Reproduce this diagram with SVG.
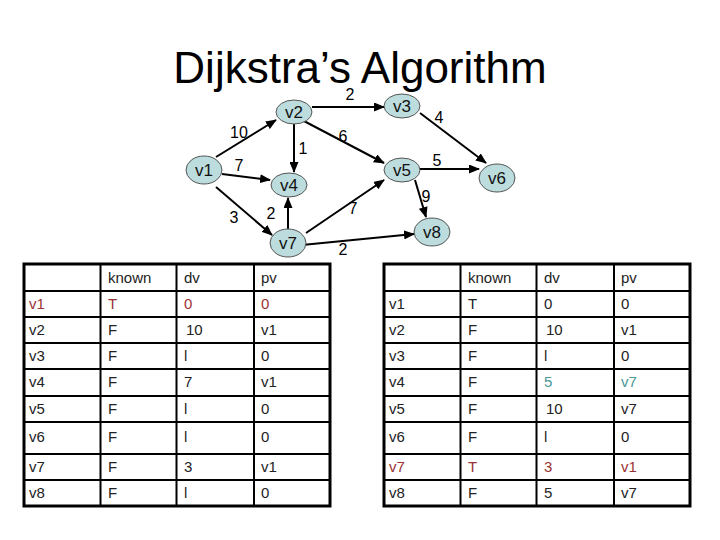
<svg xmlns="http://www.w3.org/2000/svg" width="720" height="540" viewBox="0 0 720 540">
<defs>
<marker id="arr" markerUnits="userSpaceOnUse" markerWidth="11" markerHeight="9" refX="10" refY="4.5" orient="auto">
<path d="M0,0 L11,4.5 L0,9 z" fill="#000"/>
</marker>
<style>
.t{font-family:"Liberation Sans",Arial,sans-serif}
.title{font-size:44px;fill:#000}
.node ellipse{fill:#bcdcdd;stroke:#555;stroke-width:1}
.node text{font-size:17px;fill:#111;text-anchor:middle}
.edge{stroke:#000;stroke-width:2;fill:none;marker-end:url(#arr)}
.el{font-size:16px;fill:#000;text-anchor:middle}
.grid{stroke:#000;stroke-width:2;fill:none}
.outer{stroke:#000;stroke-width:3;fill:#fff}
.c{font-size:15px;fill:#222}
.r{fill:#993333}
.g{fill:#4a9898}
</style>
</defs>
<rect width="720" height="540" fill="#fff"/>
<text class="t title" x="360" y="83" text-anchor="middle">Dijkstra’s Algorithm</text>

<g id="connectors">
<line class="edge" x1="216" y1="157" x2="276" y2="120"/>
<line class="edge" x1="222" y1="174" x2="270" y2="180"/>
<line class="edge" x1="216" y1="187" x2="272" y2="235"/>
<line class="edge" x1="312" y1="107" x2="384" y2="107"/>
<line class="edge" x1="294" y1="124" x2="294" y2="172"/>
<line class="edge" x1="302" y1="120" x2="384" y2="163"/>
<line class="edge" x1="420" y1="113" x2="486" y2="163"/>
<line class="edge" x1="420" y1="169" x2="479" y2="169"/>
<line class="edge" x1="415" y1="180" x2="426" y2="217"/>
<line class="edge" x1="288" y1="229" x2="288" y2="198"/>
<line class="edge" x1="306" y1="233" x2="384" y2="180"/>
<line class="edge" x1="302" y1="245" x2="414" y2="234"/>
<text class="t el" x="239" y="138">10</text>
<text class="t el" x="239" y="171">7</text>
<text class="t el" x="234" y="223">3</text>
<text class="t el" x="350" y="100">2</text>
<text class="t el" x="303" y="154">1</text>
<text class="t el" x="343" y="142">6</text>
<text class="t el" x="439" y="123">4</text>
<text class="t el" x="437" y="166">5</text>
<text class="t el" x="426" y="202">9</text>
<text class="t el" x="271" y="219">2</text>
<text class="t el" x="353" y="214">7</text>
<text class="t el" x="343" y="255">2</text>
</g>

<g id="v1" class="node"><ellipse cx="204" cy="170" rx="18" ry="14"/><text class="t" x="204" y="176">v1</text></g>
<g id="v2" class="node"><ellipse cx="294" cy="112" rx="18" ry="12"/><text class="t" x="294" y="118">v2</text></g>
<g id="v3" class="node"><ellipse cx="402" cy="106" rx="18" ry="12"/><text class="t" x="402" y="112">v3</text></g>
<g id="v4" class="node"><ellipse cx="289" cy="185" rx="18" ry="12"/><text class="t" x="289" y="191">v4</text></g>
<g id="v5" class="node"><ellipse cx="402" cy="170" rx="18" ry="12"/><text class="t" x="402" y="176">v5</text></g>
<g id="v6" class="node"><ellipse cx="497" cy="178" rx="18" ry="14"/><text class="t" x="497" y="184">v6</text></g>
<g id="v7" class="node"><ellipse cx="288" cy="243" rx="18" ry="14"/><text class="t" x="288" y="249">v7</text></g>
<g id="v8" class="node"><ellipse cx="432" cy="232" rx="18" ry="14"/><text class="t" x="432" y="238">v8</text></g>

<g id="table-left">
<rect class="outer" x="24" y="264" width="306" height="242"/>
<path class="grid" d="M100.5,264V506M176.5,264V506M254,264V506M24,291H330M24,317H330M24,343H330M24,369H330M24,396H330M24,422H330M24,454H330M24,480H330"/>
<g class="t c">
<text x="108" y="283">known</text><text x="184" y="283">dv</text><text x="261" y="283">pv</text>
<text class="r" x="29" y="309">v1</text><text class="r" x="108" y="309">T</text><text class="r" x="184" y="309">0</text><text class="r" x="261" y="309">0</text>
<text x="29" y="335">v2</text><text x="108" y="335">F</text><text x="186" y="335">10</text><text x="261" y="335">v1</text>
<text x="29" y="361">v3</text><text x="108" y="361">F</text><text x="184" y="361">l</text><text x="261" y="361">0</text>
<text x="29" y="387">v4</text><text x="108" y="387">F</text><text x="184" y="387">7</text><text x="261" y="387">v1</text>
<text x="29" y="414">v5</text><text x="108" y="414">F</text><text x="184" y="414">l</text><text x="261" y="414">0</text>
<text x="29" y="442">v6</text><text x="108" y="442">F</text><text x="184" y="442">l</text><text x="261" y="442">0</text>
<text x="29" y="472">v7</text><text x="108" y="472">F</text><text x="184" y="472">3</text><text x="261" y="472">v1</text>
<text x="29" y="498">v8</text><text x="108" y="498">F</text><text x="184" y="498">l</text><text x="261" y="498">0</text>
</g>
</g>

<g id="table-right">
<rect class="outer" x="384" y="264" width="306" height="242"/>
<path class="grid" d="M460.5,264V506M536.5,264V506M614,264V506M384,291H690M384,317H690M384,343H690M384,369H690M384,396H690M384,422H690M384,454H690M384,480H690"/>
<g class="t c">
<text x="468" y="283">known</text><text x="544" y="283">dv</text><text x="621" y="283">pv</text>
<text x="389" y="309">v1</text><text x="468" y="309">T</text><text x="544" y="309">0</text><text x="621" y="309">0</text>
<text x="389" y="335">v2</text><text x="468" y="335">F</text><text x="546" y="335">10</text><text x="621" y="335">v1</text>
<text x="389" y="361">v3</text><text x="468" y="361">F</text><text x="544" y="361">l</text><text x="621" y="361">0</text>
<text x="389" y="387">v4</text><text x="468" y="387">F</text><text class="g" x="544" y="387">5</text><text class="g" x="621" y="387">v7</text>
<text x="389" y="414">v5</text><text x="468" y="414">F</text><text x="546" y="414">10</text><text x="621" y="414">v7</text>
<text x="389" y="442">v6</text><text x="468" y="442">F</text><text x="544" y="442">l</text><text x="621" y="442">0</text>
<text class="r" x="389" y="472">v7</text><text class="r" x="468" y="472">T</text><text class="r" x="544" y="472">3</text><text class="r" x="621" y="472">v1</text>
<text x="389" y="498">v8</text><text x="468" y="498">F</text><text x="544" y="498">5</text><text x="621" y="498">v7</text>
</g>
</g>
</svg>
